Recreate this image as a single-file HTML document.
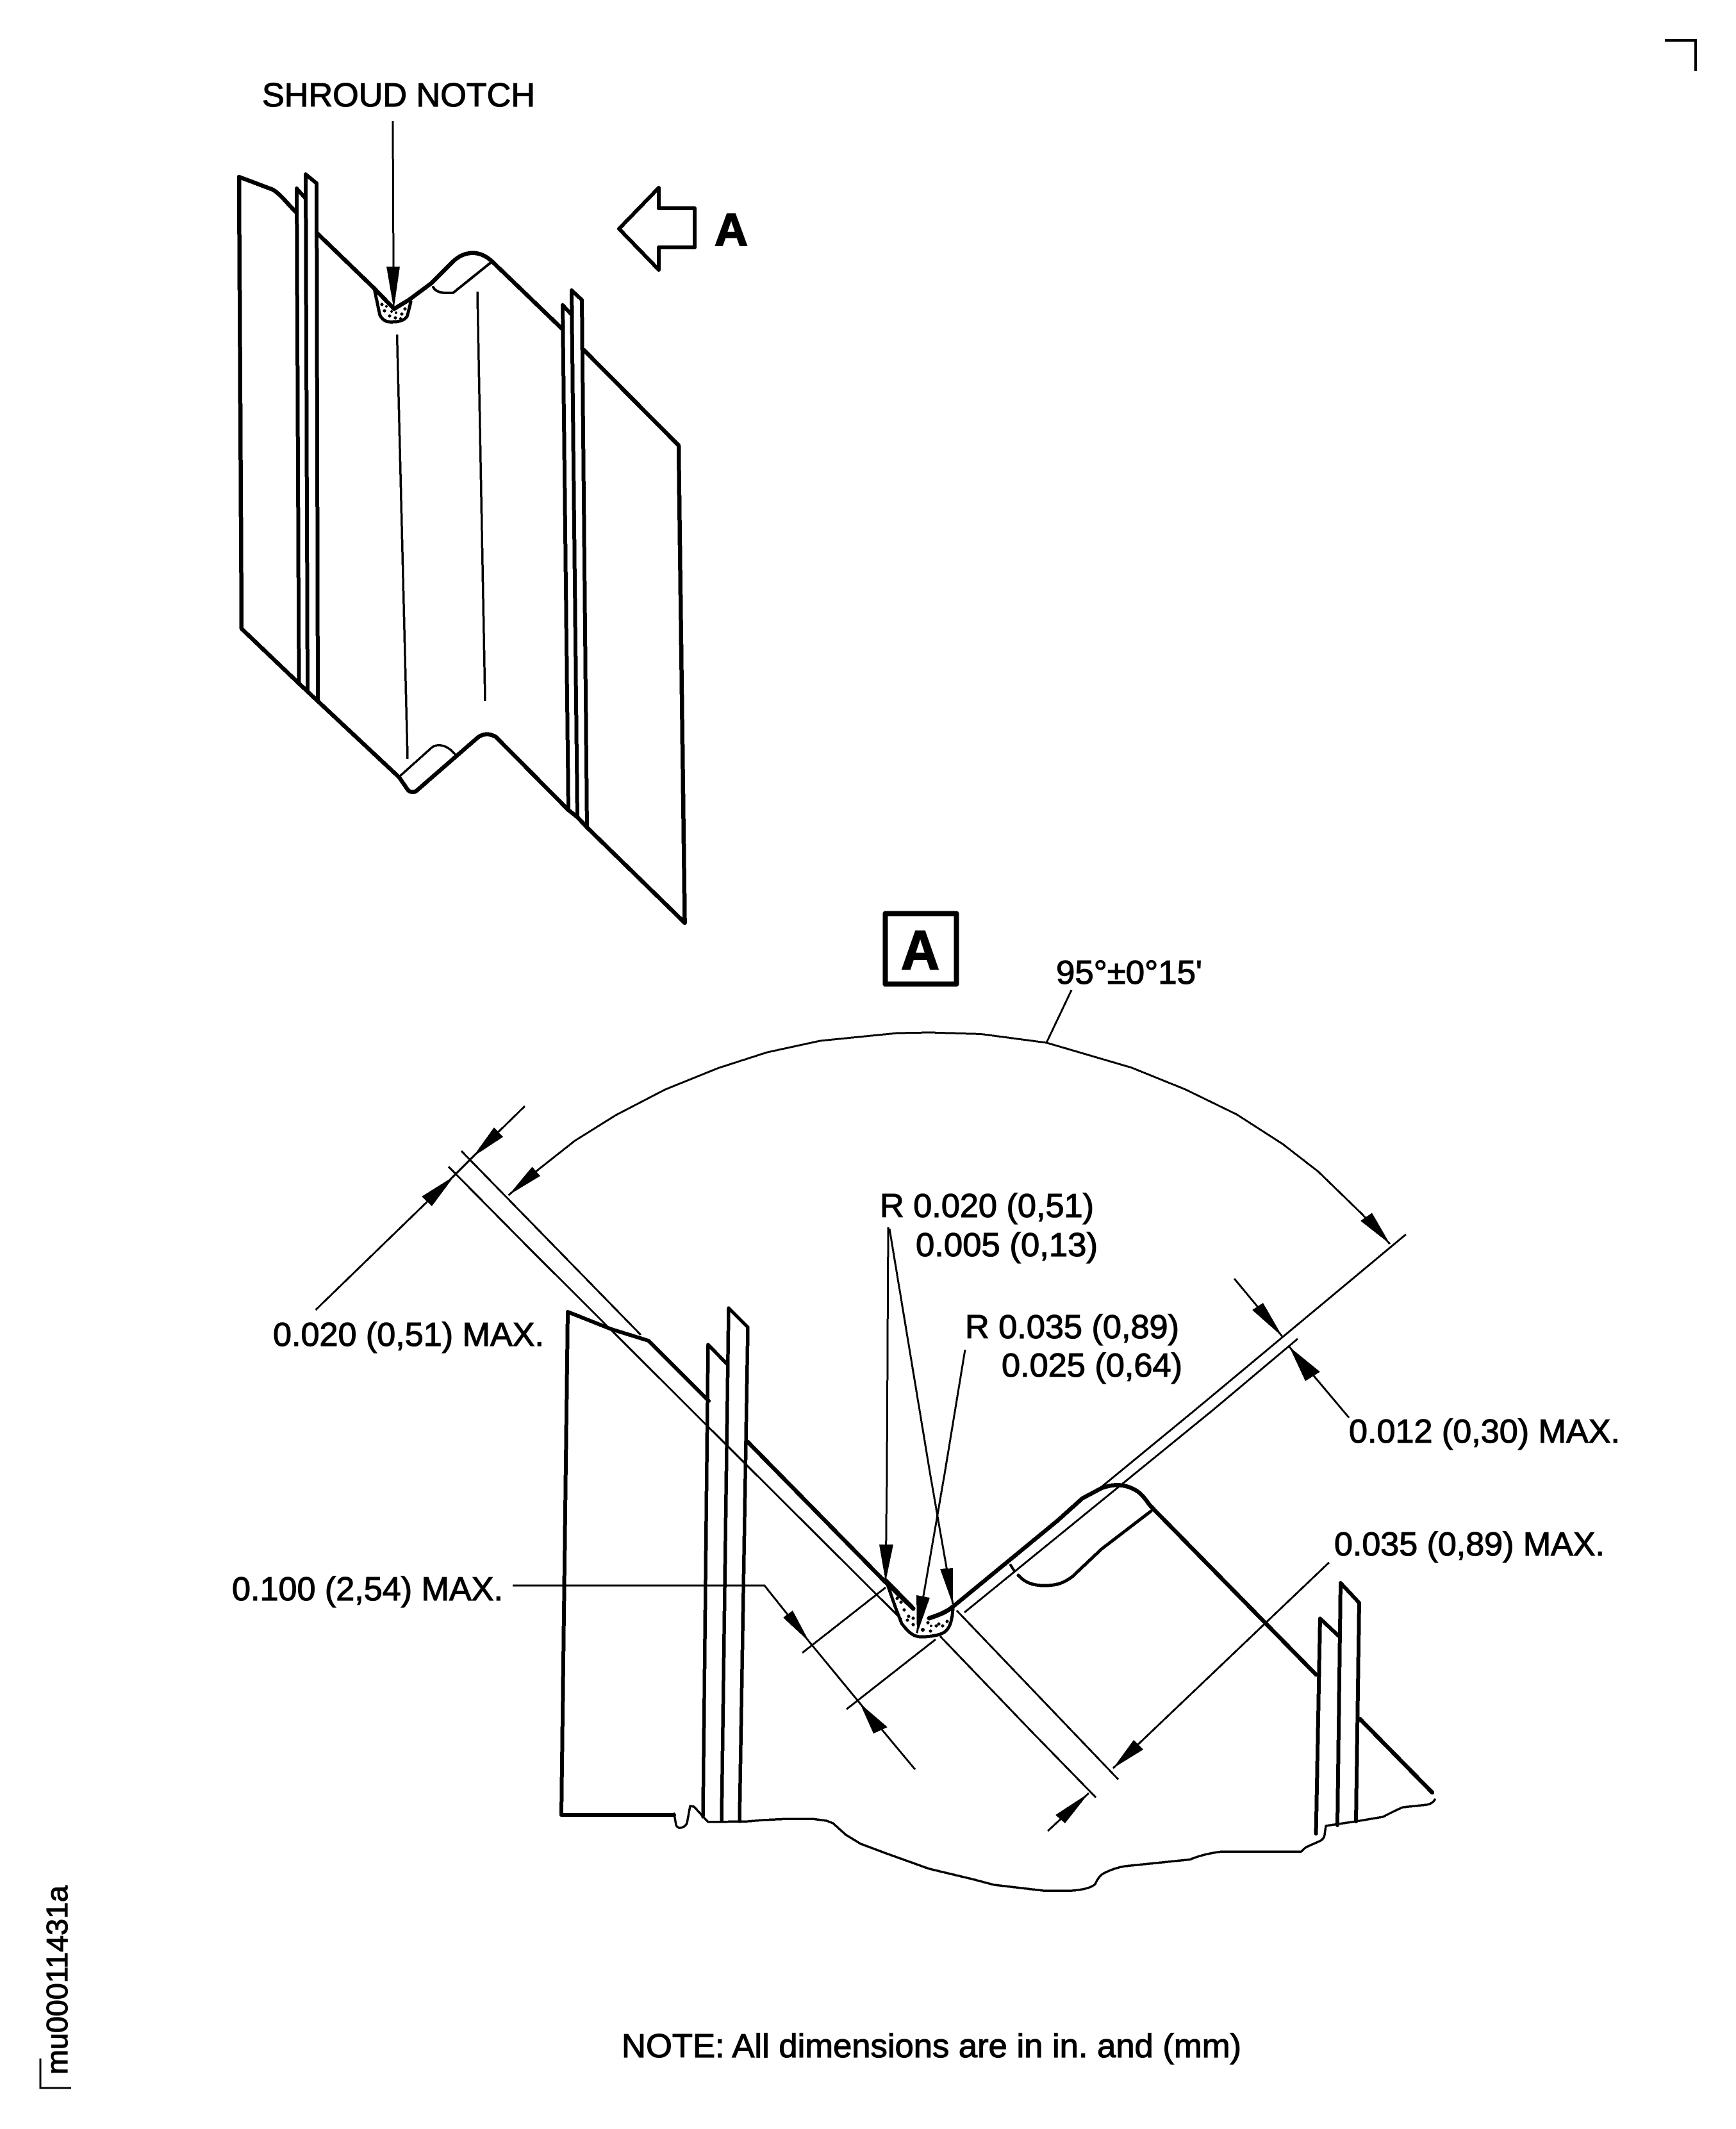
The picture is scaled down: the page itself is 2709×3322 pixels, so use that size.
<!DOCTYPE html>
<html lang="en">
<head>
<meta charset="utf-8">
<title>Shroud notch diagram</title>
<style>
html,body{margin:0;padding:0;background:#fff}
svg{display:block}
text{font-family:"Liberation Sans",sans-serif;fill:#000;font-size:52px;stroke:#000;stroke-width:1.2px}
.h{fill:none;stroke:#000;stroke-width:6.5;stroke-linejoin:round;stroke-linecap:round}
.m{fill:none;stroke:#000;stroke-width:5;stroke-linejoin:round;stroke-linecap:round}
.t{fill:none;stroke:#000;stroke-width:3;stroke-linecap:butt}
.a{fill:#000;stroke:none}
</style>
</head>
<body>
<svg xmlns="http://www.w3.org/2000/svg" width="2709" height="3322" viewBox="0 0 2709 3322" shape-rendering="crispEdges">
<rect width="2709" height="3322" fill="#fff"/>

<!-- corner marks -->
<path class="t" style="stroke-width:4" d="M2598 63H2646V111"/>
<path class="t" d="M63 3212V3258H111"/>
<text transform="translate(105 3237) rotate(-90)" textLength="295" lengthAdjust="spacingAndGlyphs" style="font-size:46px">mu00011431a</text>

<!-- top figure -->
<text x="409" y="166" textLength="426" lengthAdjust="spacingAndGlyphs">SHROUD NOTCH</text>
<path class="t" d="M613 189L614 420"/>
<polygon class="a" points="603,416 624,416 614.5,482"/>

<path class="h" d="M377 981L373 276L426 296C440 305 450 320 463 332"/>
<path class="h" style="stroke-width:6" d="M463 294L466.5 1066M463 294L477 310M477 272L480 1079M477 272L494 286L496 1092"/>
<path class="h" d="M494 363L584 450L615 482L638 468L673 442L707 408C722 394 745 387 768 408L877 513"/>
<path class="h" style="stroke-width:6" d="M878 476L887 1264M878 476L892 491M892 453L901 1275M892 453L908 468L916 1291"/>
<path class="h" d="M911 546L1059 695L1068.6 1440L916 1291L901 1275L887 1264L774 1150C764 1144 752 1144 743 1153L651 1233C647 1237 640 1237 636 1232L623 1213L466 1066L377 981"/>
<path class="m" style="stroke-width:4" d="M676 448C680 456 690 458 707 457L768 408"/>
<path class="m" style="stroke-width:3.5" d="M623 1212L672 1168C680 1160 696 1160 710 1177"/>
<path class="t" style="stroke-width:3.5" d="M619.6 522L636 1184M745 455L757 1094"/>
<!-- notch top figure -->
<path class="m" d="M584 450L592.6 491C598 503 608 503 615.5 502C627 502 634 497 635.6 493L641 471"/>
<g class="a">
<circle cx="600" cy="485" r="2.5"/><circle cx="608" cy="493" r="2.5"/><circle cx="617" cy="496" r="2.5"/><circle cx="627" cy="490" r="2.5"/><circle cx="632" cy="482" r="2.5"/><circle cx="596" cy="475" r="2.5"/><circle cx="618" cy="488" r="2"/><circle cx="625" cy="497" r="2"/><circle cx="603" cy="478" r="2"/><circle cx="611" cy="486" r="2"/>
</g>

<!-- block arrow A -->
<polygon points="966,357 1028,293 1028,325 1084,325 1084,386 1028,386 1028,421" fill="none" stroke="#000" stroke-width="6" stroke-linejoin="round"/>
<text x="1115" y="383" textLength="52" lengthAdjust="spacingAndGlyphs" style="font-size:71px;font-weight:bold;stroke-width:2px">A</text>

<!-- box A -->
<rect x="1381.5" y="1425.5" width="111" height="110" fill="none" stroke="#000" stroke-width="8" stroke-linejoin="round"/>
<text x="1406" y="1512" textLength="60" lengthAdjust="spacingAndGlyphs" style="font-size:86px;font-weight:bold;stroke-width:2px">A</text>

<!-- angle -->
<text x="1648" y="1535" textLength="228" lengthAdjust="spacingAndGlyphs">95°±0°15'</text>
<path class="t" d="M1672 1545L1633 1627"/>
<path class="t" d="M793.5 1865L840 1825L897 1780L961 1740L1038 1700L1121 1666.5L1197 1642L1280 1624L1400 1612L1451 1611L1531 1613.5L1633 1627L1766 1666L1850 1700L1930 1739L2001.5 1785L2057 1828L2125 1894L2169 1941"/>
<polygon class="a" points="793.5,1865 830.5,1820.5 843,1835"/>
<polygon class="a" points="2169,1941 2123,1905 2141,1892.5"/>

<!-- extension lines left -->
<path class="t" d="M720 1796L1000 2083"/>
<path class="t" d="M700 1820.5L828 1950L1150 2271L1407 2527"/>

<!-- 0.020 dim -->
<path class="t" d="M819 1726L738 1805L709 1834L492.5 2044"/>
<polygon class="a" points="738,1805 771,1759 785,1774"/>
<polygon class="a" points="709,1835 658,1867 674,1882"/>
<text x="426" y="2100" textLength="423" lengthAdjust="spacingAndGlyphs">0.020 (0,51) MAX.</text>

<!-- R labels -->
<text x="1373" y="1899" textLength="334" lengthAdjust="spacingAndGlyphs">R 0.020 (0,51)</text>
<text x="1429" y="1960" textLength="284" lengthAdjust="spacingAndGlyphs">0.005 (0,13)</text>
<text x="1506" y="2088" textLength="334" lengthAdjust="spacingAndGlyphs">R 0.035 (0,89)</text>
<text x="1563" y="2148" textLength="282" lengthAdjust="spacingAndGlyphs">0.025 (0,64)</text>
<text x="2105" y="2251" textLength="423" lengthAdjust="spacingAndGlyphs">0.012 (0,30) MAX.</text>
<text x="2082" y="2427" textLength="422" lengthAdjust="spacingAndGlyphs">0.035 (0,89) MAX.</text>
<text x="362" y="2497" textLength="423" lengthAdjust="spacingAndGlyphs">0.100 (2,54) MAX.</text>
<text x="970" y="3210" textLength="967" lengthAdjust="spacingAndGlyphs">NOTE: All dimensions are in in. and (mm)</text>

<!-- main lower figure -->
<path class="m" style="stroke-width:6" d="M876 2832L886 2047L954 2074L1012 2092L1106 2186"/>
<path class="m" style="stroke-width:6" d="M876 2832H1052"/>
<path class="m" style="stroke-width:5.5" d="M1097 2835L1105 2098L1135 2129M1126 2842L1137 2041L1167 2071L1154 2842"/>
<path class="h" d="M1167 2250L1380 2467L1425 2510"/>
<path class="h" d="M1487 2507L1650 2373L1689 2338L1719 2322C1735 2316 1755 2314 1775 2327C1785 2334 1790 2344 1796 2350.5L2053.6 2613"/>
<path class="h" style="stroke-width:6" d="M2053.6 2861L2060 2525.5L2091 2554.6M2087 2848L2092 2470L2121 2501L2116 2842"/>
<path class="h" d="M2122 2682L2235 2797"/>
<path class="m" d="M1589 2458C1600 2470 1612 2474 1630 2474C1650 2474 1660 2470 1673.5 2460L1719 2417L1796 2358"/>
<path class="m" style="stroke-width:4" d="M1577 2442L1582 2450"/>

<!-- broken edge -->
<path class="m" style="stroke-width:3.5" d="M1052 2830L1055 2848Q1058 2853 1062 2852Q1069 2851 1072 2845L1077 2818L1083 2819L1093 2830L1105 2843L1167 2842L1190 2840L1230 2838L1267 2838L1290 2841L1300 2845L1320 2863L1343 2877L1383 2892L1450 2916L1517 2932L1551 2941L1627.6 2950L1673.5 2950Q1700 2948 1709 2940Q1715 2926 1724.5 2922Q1738 2915 1755 2912L1857 2901.5Q1880 2892 1908 2889L2031 2889Q2036 2883 2041 2881L2059 2873Q2066 2870 2067 2863L2069 2849L2116 2842L2158 2835Q2175 2826 2189 2820L2227 2816Q2236 2814 2239 2808"/>

<!-- notch -->
<path class="h" style="stroke-width:7" d="M1383 2467L1425 2510"/>
<path class="m" d="M1384 2470L1398 2510L1407 2533Q1418 2548 1427 2552Q1435 2555 1443 2554Q1458 2553 1467 2550Q1476 2547 1480 2540Q1486 2530 1487 2510"/>
<path class="h" style="stroke-width:7" d="M1450 2525C1465 2520 1478 2515 1487 2507"/>
<g class="a">
<circle cx="1400" cy="2494" r="2.5"/><circle cx="1406" cy="2500" r="2.5"/><circle cx="1411" cy="2512" r="2.5"/><circle cx="1418" cy="2522" r="2.5"/><circle cx="1425" cy="2525" r="2.5"/><circle cx="1416" cy="2528" r="2.5"/><circle cx="1425" cy="2535" r="2.5"/><circle cx="1440" cy="2543" r="3"/><circle cx="1453" cy="2537" r="2"/><circle cx="1452" cy="2545" r="2.5"/><circle cx="1461" cy="2537" r="2.5"/><circle cx="1465" cy="2534" r="2.5"/><circle cx="1471" cy="2537" r="2.5"/><circle cx="1478" cy="2530" r="2.5"/><circle cx="1448" cy="2532" r="2.5"/><circle cx="1405" cy="2489" r="2"/><circle cx="1412" cy="2497" r="2"/>
</g>

<!-- R leaders -->
<path class="t" d="M1386 1915L1384 2300L1382 2467"/>
<path class="t" d="M1388 1917L1451.5 2300L1487 2503"/>
<path class="t" d="M1506 2106L1474 2300L1431 2548"/>
<polygon class="a" points="1372,2410 1394,2410 1382,2468"/>
<polygon class="a" points="1467,2448 1487,2447 1487,2504"/>
<polygon class="a" points="1430,2489 1451,2493 1431,2550"/>

<!-- right extension lines -->
<path class="t" d="M2194 1926L1865 2200L1719 2320"/>
<path class="t" d="M2025 2089L1893 2200L1505 2516"/>

<!-- 0.012 dim -->
<path class="t" d="M1926 1995L2001.5 2086"/>
<polygon class="a" points="2001.5,2086 1954,2044 1971,2033"/>
<path class="t" d="M2105 2212L2012 2101.5"/>
<polygon class="a" points="2012,2101.5 2037,2155 2060,2140.5"/>

<!-- 0.035 dim -->
<path class="t" d="M1493 2513L1745 2776.5"/>
<path class="t" d="M1467 2553L1608 2700L1710 2804.6"/>
<path class="t" d="M2074 2438L1737 2759"/>
<polygon class="a" points="1737,2759 1769,2715 1784,2730"/>
<path class="t" d="M1635 2857L1699 2798"/>
<polygon class="a" points="1699,2798 1647,2832 1662,2845"/>

<!-- 0.100 dim -->
<path class="t" d="M800 2474H1193L1263 2562L1338 2653L1428 2761"/>
<polygon class="a" points="1263,2562 1222,2524 1237,2513"/>
<polygon class="a" points="1342,2658 1385,2695 1363,2705"/>
<path class="t" d="M1252 2579L1382 2477"/>
<path class="t" d="M1321 2667L1460 2558"/>
</svg>
</body>
</html>
